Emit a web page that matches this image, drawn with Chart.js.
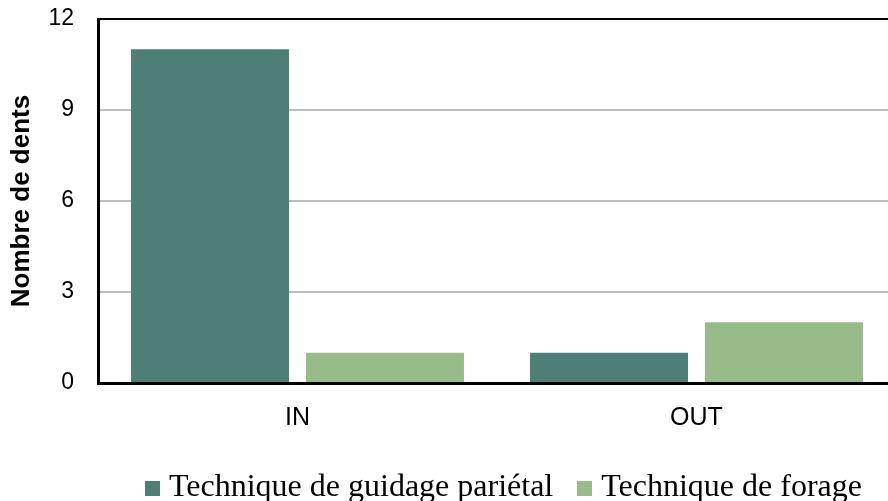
<!DOCTYPE html>
<html><head><meta charset="utf-8">
<script src="https://cdn.jsdelivr.net/npm/chart.js@4/dist/chart.umd.min.js"></script>
<style>
html,body{margin:0;padding:0;overflow:hidden;background:#fff;width:888px;height:501px;}
#wrap{position:absolute;left:0;top:0;width:1008px;height:501px;}
</style></head>
<body><div id="wrap"><canvas id="c"></canvas></div>
<script>
const categories = ["IN", "OUT"];
const seriesNames = ["Technique de guidage pariétal", "Technique de forage"];
const guidageValues = [11, 1];
const forageValues = [1, 2];
const yTicks = [0, 3, 6, 9, 12];
const yTitle = "Nombre de dents";
const seriesColors = ['#4E7F76', '#97BC89'];

function swatch(color) {
  const cv = document.createElement('canvas');
  cv.width = 15; cv.height = 15;
  const g = cv.getContext('2d');
  g.fillStyle = color; g.fillRect(0, 0, 15, 15);
  return cv;
}
const swatches = seriesColors.map(swatch);

const legendShift = {
  id: 'legendShift',
  afterInit(chart) {
    const lg = chart.legend;
    if (!lg) return;
    const origFit = lg.fit.bind(lg);
    lg.fit = function () { origFit(); this.height = this.height - 13; };
  }
};

new Chart(document.getElementById('c'), {
  type: 'bar',
  data: {
    labels: categories,
    datasets: [
      {label: seriesNames[0], data: guidageValues, backgroundColor: seriesColors[0], borderWidth: 0, barPercentage: 0.903, categoryPercentage: 0.877},
      {label: seriesNames[1], data: forageValues, backgroundColor: seriesColors[1], borderWidth: 0, barPercentage: 0.903, categoryPercentage: 0.877}
    ]
  },
  plugins: [legendShift],
  options: {
    responsive: true, maintainAspectRatio: false, animation: false,
    layout: {padding: {top: 19, left: 6, right: 0, bottom: 0}},
    plugins: {
      tooltip: {enabled: false},
      legend: {
        position: 'bottom',
        labels: {
          font: {family: 'Liberation Serif', size: 32}, color: '#000',
          usePointStyle: true, pointStyleWidth: 1, boxHeight: 15, padding: 31,
          generateLabels: chart => {
            const items = Chart.defaults.plugins.legend.labels.generateLabels(chart);
            items.forEach((it, i) => { it.pointStyle = swatches[i]; });
            return items;
          }
        }
      }
    },
    scales: {
      x: {
        afterFit: s => { s.height = s.height - 12; s.paddingLeft = 0; s.paddingRight = 0; s.paddingTop = 0; s.paddingBottom = 0; },
        grid: {display: false, drawTicks: false},
        border: {display: true, color: '#000', width: 3},
        ticks: {font: {family: 'Liberation Sans', size: 25}, color: '#000', padding: 20}
      },
      y: {
        min: 0, max: 12,
        afterBuildTicks: s => { s.ticks = yTicks.map(v => ({value: v})); },
        afterFit: s => { s.width = 92; s.paddingTop = 0; s.paddingBottom = 0; },
        grid: {drawTicks: false, lineWidth: 2, color: c => c.tick && c.tick.value === 12 ? '#000' : '#BEBEBE'},
        border: {display: true, color: '#000', width: 3},
        ticks: {font: {family: 'Liberation Sans', size: 23}, color: '#000', padding: 24},
        title: {display: true, text: yTitle, font: {family: 'Liberation Sans', size: 26, weight: 'bold'}, color: '#000', padding: {top: 0, bottom: 0}}
      },
      y2: {
        position: 'right', display: true,
        afterFit: s => { s.width = 112; s.paddingTop = 0; s.paddingBottom = 0; },
        grid: {display: false, drawTicks: false},
        border: {display: false},
        ticks: {display: false}
      }
    }
  }
});
</script></body></html>
